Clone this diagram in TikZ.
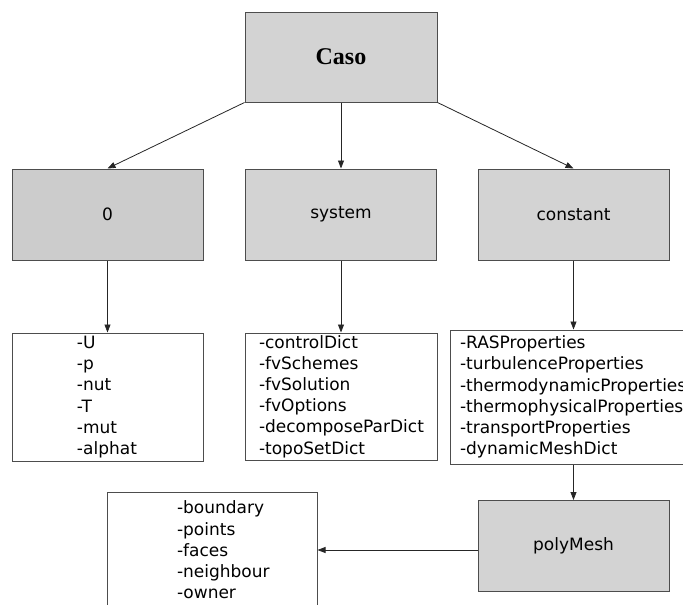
\documentclass[tikz,border=0pt]{standalone}
\usepackage{fontspec}
\setmainfont{DejaVu Sans}
\newfontfamily\titlefont{Liberation Serif}
\usetikzlibrary{arrows.meta,positioning}
\definecolor{folderfill}{HTML}{D3D3D3}
\definecolor{zerofill}{HTML}{CCCCCC}
\definecolor{edgegray}{HTML}{4D4D4D}

\begin{document}
\begin{tikzpicture}[
    x=1pt, y=-1pt,
    folder/.style={fill=folderfill, draw=edgegray, line width=1pt, minimum width=191pt, minimum height=91pt, inner sep=0pt, font=\fontsize{17}{21}\selectfont},
    filelist/.style={fill=white, draw=edgegray, line width=1pt, inner sep=0pt, align=left, font=\fontsize{17}{21.2}\selectfont},
    listindent/.style={execute at begin node={\leftskip=#1}},
    arrowstyle/.style={-{Triangle[length=8pt,width=6pt]}, line width=0.8pt, black!85}
]
\useasboundingbox (0,0) rectangle (683,605);

% Case folder at the top
\node[folder, minimum width=192pt, minimum height=90pt, font=\titlefont\bfseries\fontsize{24}{28}\selectfont] (caso) at (341,57) {Caso};

% The three sub-folders
\node[folder, fill=zerofill] (zero) at (107.5,214.5) {0};
\node[folder] (system) at (341,214.5) {system};
\node[folder] (constant) at (573.5,214.5) {constant};

% File lists of each folder
\node[filelist, text width=191pt, minimum height=128pt, listindent=65pt] (zero-list) at (107.5,397)
    {-U\\-p\\-nut\\-T\\-mut\\-alphat};
\node[filelist, text width=192pt, minimum height=127pt, listindent=14pt] (system-list) at (341,396.5)
    {-controlDict\\-fvSchemes\\-fvSolution\\-fvOptions\\-decomposeParDict\\-topoSetDict};
\node[filelist, text width=247pt, minimum height=134pt, listindent=10pt] (constant-list) at (573.5,397)
    {-RASProperties\\-turbulenceProperties\\-thermodynamicProperties\\-thermophysicalProperties\\-transportProperties\\-dynamicMeshDict};

% polyMesh folder and its files
\node[folder] (poly) at (573.5,546) {polyMesh};
\node[filelist, text width=210pt, minimum height=116pt, listindent=70pt] (mesh-list) at (212,550)
    {-boundary\\-points\\-faces\\-neighbour\\-owner};

% Arrows
\draw[arrowstyle] (caso.south west) -- (zero.north);
\draw[arrowstyle] (caso.south) -- (system.north);
\draw[arrowstyle] (caso.south east) -- (constant.north);
\foreach \dir in {zero, system, constant} {
    \draw[arrowstyle] (\dir.south) -- (\dir-list.north);
}
\draw[arrowstyle] (constant-list.south) -- (poly.north);
\draw[arrowstyle] (poly.west |- mesh-list.east) -- (mesh-list.east);

\end{tikzpicture}
\end{document}
